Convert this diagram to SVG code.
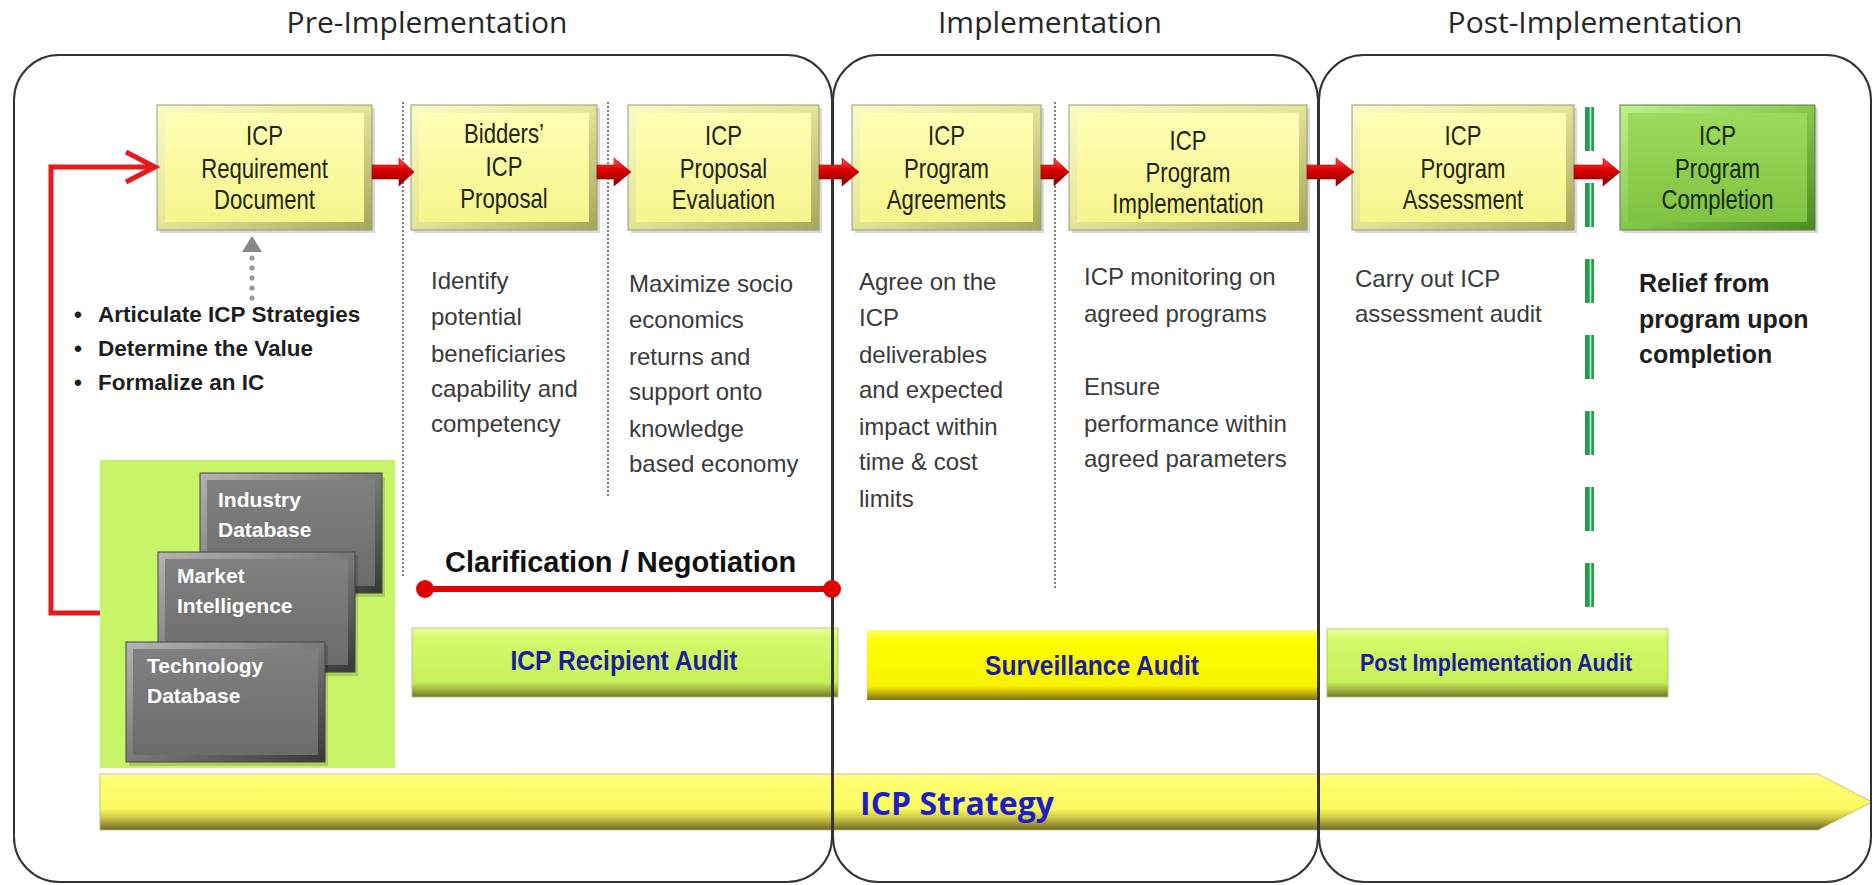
<svg xmlns="http://www.w3.org/2000/svg" width="1874" height="885" viewBox="0 0 1874 885">
<style>
.hdr{font-family:'Open Sans','Liberation Sans',sans-serif;font-size:30px;fill:#262626;text-anchor:middle}
.lbl{font-family:'Liberation Sans',Arial,sans-serif;font-size:27px;fill:#24240a;text-anchor:middle}
.body{font-family:'Liberation Sans',Arial,sans-serif;font-size:24px;fill:#3a3a3a}
.bul{font-family:'Liberation Sans',Arial,sans-serif;font-size:22.5px;font-weight:bold;fill:#1e1e1e}
.rel{font-family:'Liberation Sans',Arial,sans-serif;font-size:25px;font-weight:bold;fill:#1e1e1e}
.db{font-family:'Liberation Sans',Arial,sans-serif;font-size:21px;font-weight:bold;fill:#ffffff}
.aud{font-family:'Liberation Sans',Arial,sans-serif;font-size:28px;font-weight:bold;fill:#1c1c9c;text-anchor:middle}
.neg{font-family:'Liberation Sans',Arial,sans-serif;font-size:29px;font-weight:bold;fill:#111111}
.strat{font-family:'Open Sans','Liberation Sans',sans-serif;font-size:32px;font-weight:bold;fill:#1e1ec8;text-anchor:middle}
.frame{fill:none;stroke:#333333;stroke-width:2}
.sep{stroke:#555555;stroke-width:1.5;stroke-dasharray:2 2;fill:none}
.ra{fill:url(#gRed);stroke:#9a0000;stroke-width:0.6}
.sh{fill:#000000;opacity:0.15}
.yb{fill:url(#gYB);stroke:#9a9a78;stroke-width:1}
.yf{fill:url(#gYF)}
.gb{fill:url(#gGB);stroke:#5f7f45;stroke-width:1}
.gf{fill:url(#gGF)}
.kb{fill:url(#gDB);stroke:#444444;stroke-width:1}
.kf{fill:url(#gDF)}
</style>
<defs>
<linearGradient id="gRed" x1="0" y1="0" x2="0" y2="1"><stop offset="0" stop-color="#ff5a5a"/><stop offset="0.4" stop-color="#e00000"/><stop offset="1" stop-color="#820000"/></linearGradient>
<linearGradient id="gYB" x1="0" y1="0" x2="1" y2="1"><stop offset="0" stop-color="#fbfbc6"/><stop offset="0.5" stop-color="#e4e498"/><stop offset="1" stop-color="#a5a55a"/></linearGradient>
<linearGradient id="gYF" x1="0" y1="0" x2="0" y2="1"><stop offset="0" stop-color="#ffffb6"/><stop offset="1" stop-color="#f5f58c"/></linearGradient>
<linearGradient id="gGB" x1="0" y1="0" x2="1" y2="1"><stop offset="0" stop-color="#c0f090"/><stop offset="0.5" stop-color="#86c84c"/><stop offset="1" stop-color="#4a8a22"/></linearGradient>
<linearGradient id="gGF" x1="0" y1="0" x2="0" y2="1"><stop offset="0" stop-color="#9cda5c"/><stop offset="1" stop-color="#80c242"/></linearGradient>
<linearGradient id="gDB" x1="0" y1="0" x2="1" y2="1"><stop offset="0" stop-color="#b4b4b4"/><stop offset="0.5" stop-color="#7a7a7a"/><stop offset="1" stop-color="#383838"/></linearGradient>
<linearGradient id="gDF" x1="0" y1="0" x2="0" y2="1"><stop offset="0" stop-color="#808080"/><stop offset="1" stop-color="#6c6c6c"/></linearGradient>
<linearGradient id="gAG" x1="0" y1="0" x2="0" y2="1"><stop offset="0" stop-color="#ecffa6"/><stop offset="0.14" stop-color="#d4fa6c"/><stop offset="0.78" stop-color="#c6f05a"/><stop offset="0.9" stop-color="#9cb040"/><stop offset="1" stop-color="#6e7a2a"/></linearGradient>
<linearGradient id="gAY" x1="0" y1="0" x2="0" y2="1"><stop offset="0" stop-color="#ffff70"/><stop offset="0.14" stop-color="#ffff00"/><stop offset="0.8" stop-color="#f8f200"/><stop offset="0.9" stop-color="#c2b200"/><stop offset="1" stop-color="#7a7020"/></linearGradient>
<linearGradient id="gST" x1="0" y1="0" x2="0" y2="1"><stop offset="0" stop-color="#ffffa0"/><stop offset="0.12" stop-color="#ffff70"/><stop offset="0.62" stop-color="#fafa62"/><stop offset="0.78" stop-color="#cfc844"/><stop offset="1" stop-color="#6e6a28"/></linearGradient>
</defs>

<!-- phase headers -->
<text class="hdr" x="427" y="33">Pre-Implementation</text>
<text class="hdr" x="1050" y="33">Implementation</text>
<text class="hdr" x="1595" y="33">Post-Implementation</text>

<!-- bottom bars -->
<g id="strategy">
<path d="M100,774 L1818,774 L1872,802 L1818,830 L100,830 Z" fill="url(#gST)" stroke="#b8b860" stroke-width="0.8"/>
<text class="strat" x="957" y="815">ICP Strategy</text>
</g>
<g id="audit-recipient">
<rect x="412" y="628" width="426" height="69" fill="url(#gAG)" stroke="#a8c060" stroke-width="0.8"/>
<text class="aud" transform="translate(624 0) scale(0.88 1)" x="0" y="670">ICP Recipient Audit</text>
</g>
<g id="audit-surveillance">
<rect x="867" y="630" width="450" height="70" fill="url(#gAY)"/>
<text class="aud" transform="translate(1092 0) scale(0.88 1)" x="0" y="675">Surveillance Audit</text>
</g>
<g id="audit-post">
<rect x="1327" y="629" width="341" height="68" fill="url(#gAG)" stroke="#a8c060" stroke-width="0.8"/>
<text class="aud" style="font-size:24.5px" transform="translate(1496 0) scale(0.88 1)" x="0" y="671">Post Implementation Audit</text>
</g>

<!-- databases panel -->
<g id="db-panel">
<rect x="100" y="460" width="295" height="308" fill="#c8f46a"/>
<g id="db-industry">
<rect class="sh" x="203" y="477" width="182" height="120"/>
<rect class="kb" x="200" y="473" width="182" height="120"/>
<rect class="kf" x="207" y="480" width="168" height="106"/>
<text class="db" x="218" y="507">Industry</text>
<text class="db" x="218" y="537">Database</text>
</g>
<g id="db-market">
<rect class="sh" x="161" y="556" width="197" height="120"/>
<rect class="kb" x="158" y="552" width="197" height="120"/>
<rect class="kf" x="165" y="559" width="183" height="106"/>
<text class="db" x="177" y="583">Market</text>
<text class="db" x="177" y="613">Intelligence</text>
</g>
<g id="db-technology">
<rect class="sh" x="129" y="646" width="199" height="120"/>
<rect class="kb" x="126" y="642" width="199" height="120"/>
<rect class="kf" x="133" y="649" width="185" height="106"/>
<text class="db" x="147" y="673">Technology</text>
<text class="db" x="147" y="703">Database</text>
</g>
</g>

<!-- phase frames -->
<g id="frames">
<rect class="frame" x="14" y="55" width="818" height="827" rx="45"/>
<rect class="frame" x="833" y="55" width="485" height="827" rx="45"/>
<rect class="frame" x="1319" y="55" width="552" height="827" rx="45"/>
</g>

<!-- separators -->
<g id="separators">
<line class="sep" x1="403" y1="102" x2="403" y2="578"/>
<line class="sep" x1="608" y1="102" x2="608" y2="498"/>
<line class="sep" x1="1055" y1="102" x2="1055" y2="588"/>
<line x1="1589.5" y1="107" x2="1589.5" y2="607" stroke="#22a050" stroke-width="9" stroke-dasharray="44 32"/>
<line x1="1590.5" y1="107" x2="1590.5" y2="607" stroke="#c8f0d0" stroke-width="1.6" stroke-dasharray="44 32"/>
</g>

<!-- process boxes -->
<g id="n-requirement">
<rect class="sh" x="160" y="108" width="215" height="125"/>
<rect class="yb" x="157" y="105" width="215" height="125"/>
<rect class="yf" x="165" y="113" width="199" height="109"/>
<text class="lbl" transform="translate(264.5 0) scale(0.82 1)"><tspan x="0" y="145">ICP</tspan><tspan x="0" y="178">Requirement</tspan><tspan x="0" y="209">Document</tspan></text>
</g>
<g id="n-bidders">
<rect class="sh" x="414" y="108" width="186" height="125"/>
<rect class="yb" x="411" y="105" width="186" height="125"/>
<rect class="yf" x="419" y="113" width="170" height="109"/>
<text class="lbl" transform="translate(504 0) scale(0.82 1)"><tspan x="0" y="143">Bidders’</tspan><tspan x="0" y="176">ICP</tspan><tspan x="0" y="208">Proposal</tspan></text>
</g>
<g id="n-evaluation">
<rect class="sh" x="631" y="108" width="191" height="125"/>
<rect class="yb" x="628" y="105" width="191" height="125"/>
<rect class="yf" x="636" y="113" width="175" height="109"/>
<text class="lbl" transform="translate(723.5 0) scale(0.82 1)"><tspan x="0" y="145">ICP</tspan><tspan x="0" y="178">Proposal</tspan><tspan x="0" y="209">Evaluation</tspan></text>
</g>
<g id="n-agreements">
<rect class="sh" x="855" y="108" width="189" height="125"/>
<rect class="yb" x="852" y="105" width="189" height="125"/>
<rect class="yf" x="860" y="113" width="173" height="109"/>
<text class="lbl" transform="translate(946.5 0) scale(0.82 1)"><tspan x="0" y="145">ICP</tspan><tspan x="0" y="178">Program</tspan><tspan x="0" y="209">Agreements</tspan></text>
</g>
<g id="n-implementation">
<rect class="sh" x="1072" y="108" width="238" height="125"/>
<rect class="yb" x="1069" y="105" width="238" height="125"/>
<rect class="yf" x="1077" y="113" width="222" height="109"/>
<text class="lbl" transform="translate(1188 0) scale(0.82 1)"><tspan x="0" y="150">ICP</tspan><tspan x="0" y="182">Program</tspan><tspan x="0" y="213">Implementation</tspan></text>
</g>
<g id="n-assessment">
<rect class="sh" x="1355" y="108" width="222" height="125"/>
<rect class="yb" x="1352" y="105" width="222" height="125"/>
<rect class="yf" x="1360" y="113" width="206" height="109"/>
<text class="lbl" transform="translate(1463 0) scale(0.82 1)"><tspan x="0" y="145">ICP</tspan><tspan x="0" y="178">Program</tspan><tspan x="0" y="209">Assessment</tspan></text>
</g>
<g id="n-completion">
<rect class="sh" x="1623" y="108" width="195" height="125"/>
<rect class="gb" x="1620" y="105" width="195" height="125"/>
<rect class="gf" x="1628" y="113" width="179" height="109"/>
<text class="lbl" style="fill:#142a00" transform="translate(1717.5 0) scale(0.82 1)"><tspan x="0" y="145">ICP</tspan><tspan x="0" y="178">Program</tspan><tspan x="0" y="209">Completion</tspan></text>
</g>

<!-- descriptive texts -->
<g id="t-bullets">
<text class="bul" x="74" y="322">•</text><text class="bul" x="98" y="322">Articulate ICP Strategies</text>
<text class="bul" x="74" y="356">•</text><text class="bul" x="98" y="356">Determine the Value</text>
<text class="bul" x="74" y="390">•</text><text class="bul" x="98" y="390">Formalize an IC</text>
</g>
<text class="body" id="t-bidders"><tspan x="431" y="289">Identify</tspan><tspan x="431" y="325">potential</tspan><tspan x="431" y="362">beneficiaries</tspan><tspan x="431" y="397">capability and</tspan><tspan x="431" y="432">competency</tspan></text>
<text class="body" id="t-evaluation"><tspan x="629" y="292">Maximize socio</tspan><tspan x="629" y="328">economics</tspan><tspan x="629" y="365">returns and</tspan><tspan x="629" y="400">support onto</tspan><tspan x="629" y="437">knowledge</tspan><tspan x="629" y="472">based economy</tspan></text>
<text class="body" id="t-agreements"><tspan x="859" y="290">Agree on the</tspan><tspan x="859" y="326">ICP</tspan><tspan x="859" y="363">deliverables</tspan><tspan x="859" y="398">and expected</tspan><tspan x="859" y="435">impact within</tspan><tspan x="859" y="470">time &amp; cost</tspan><tspan x="859" y="507">limits</tspan></text>
<text class="body" id="t-implementation"><tspan x="1084" y="285">ICP monitoring on</tspan><tspan x="1084" y="322">agreed programs</tspan><tspan x="1084" y="395">Ensure</tspan><tspan x="1084" y="432">performance within</tspan><tspan x="1084" y="467">agreed parameters</tspan></text>
<text class="body" id="t-assessment"><tspan x="1355" y="287">Carry out ICP</tspan><tspan x="1355" y="322">assessment audit</tspan></text>
<text class="rel" id="t-completion"><tspan x="1639" y="292">Relief from</tspan><tspan x="1639" y="328">program upon</tspan><tspan x="1639" y="363">completion</tspan></text>

<g id="clarification">
<text class="neg" x="445" y="572">Clarification / Negotiation</text>
<line x1="425" y1="589" x2="832" y2="589" stroke="#e00000" stroke-width="6"/>
<circle cx="425" cy="589" r="9" fill="#e00000"/>
<circle cx="832" cy="589" r="9" fill="#e00000"/>
</g>

<!-- connectors -->
<g id="connectors">
<path d="M100,613 L51,613 L51,167 L153,167" fill="none" stroke="#e31b1b" stroke-width="5"/>
<polyline points="126,152 155,167 126,182" fill="none" stroke="#e31b1b" stroke-width="5"/>
<g fill="#999999">
<circle cx="252" cy="258" r="2.6"/><circle cx="252" cy="268" r="2.6"/><circle cx="252" cy="278" r="2.6"/><circle cx="252" cy="288" r="2.6"/><circle cx="252" cy="298" r="2.6"/>
</g>
<polygon points="252,236 242,252 262,252" fill="#888888"/>
<path class="ra" d="M372,165 L399,165 L399,158 L414,172 L399,186 L399,179 L372,179 Z"/>
<path class="ra" d="M597,165 L614,165 L614,158 L631,172 L614,186 L614,179 L597,179 Z"/>
<path class="ra" d="M819,165 L842,165 L842,158 L859,172 L842,186 L842,179 L819,179 Z"/>
<path class="ra" d="M1041,165 L1054,165 L1054,158 L1069,172 L1054,186 L1054,179 L1041,179 Z"/>
<path class="ra" d="M1307,165 L1336,165 L1336,158 L1354,172 L1336,186 L1336,179 L1307,179 Z"/>
<path class="ra" d="M1574,165 L1603,165 L1603,158 L1620,172 L1603,186 L1603,179 L1574,179 Z"/>
</g>
</svg>
